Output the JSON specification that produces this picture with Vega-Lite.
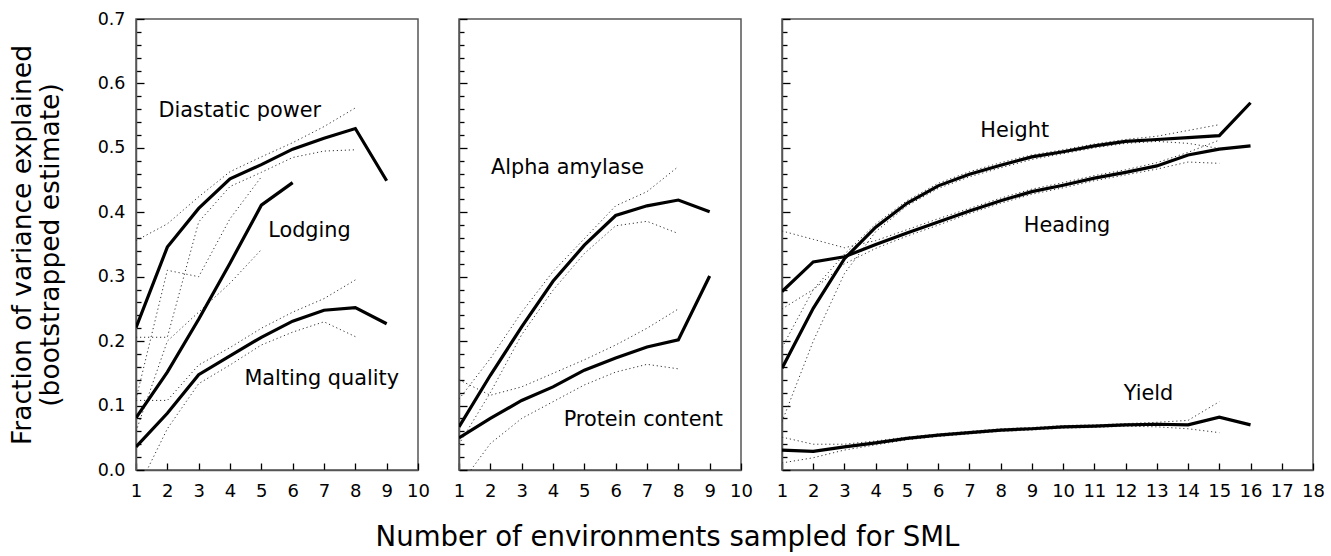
{
"$schema": "https://vega.github.io/schema/vega-lite/v6.json",
"autosize": {"type": "pad"},
"padding": {"left": 8, "top": 9, "right": 0, "bottom": 0},
"background": "white",
"datasets": {
"lines": [
{"p":1,"s":"Diastatic","k":"mean","x":1,"y":0.221},{"p":1,"s":"Diastatic","k":"mean","x":2,"y":0.346},{"p":1,"s":"Diastatic","k":"mean","x":3,"y":0.406},{"p":1,"s":"Diastatic","k":"mean","x":4,"y":0.452},{"p":1,"s":"Diastatic","k":"mean","x":5,"y":0.474},{"p":1,"s":"Diastatic","k":"mean","x":6,"y":0.498},{"p":1,"s":"Diastatic","k":"mean","x":7,"y":0.515},{"p":1,"s":"Diastatic","k":"mean","x":8,"y":0.530},{"p":1,"s":"Diastatic","k":"mean","x":9,"y":0.449},
{"p":1,"s":"Diastatic","k":"upper","x":1,"y":0.356},{"p":1,"s":"Diastatic","k":"upper","x":2,"y":0.382},{"p":1,"s":"Diastatic","k":"upper","x":3,"y":0.424},{"p":1,"s":"Diastatic","k":"upper","x":4,"y":0.463},{"p":1,"s":"Diastatic","k":"upper","x":5,"y":0.486},{"p":1,"s":"Diastatic","k":"upper","x":6,"y":0.508},{"p":1,"s":"Diastatic","k":"upper","x":7,"y":0.533},{"p":1,"s":"Diastatic","k":"upper","x":8,"y":0.562},
{"p":1,"s":"Diastatic","k":"lower","x":1,"y":0.206},{"p":1,"s":"Diastatic","k":"lower","x":2,"y":0.206},{"p":1,"s":"Diastatic","k":"lower","x":3,"y":0.385},{"p":1,"s":"Diastatic","k":"lower","x":4,"y":0.440},{"p":1,"s":"Diastatic","k":"lower","x":5,"y":0.462},{"p":1,"s":"Diastatic","k":"lower","x":6,"y":0.485},{"p":1,"s":"Diastatic","k":"lower","x":7,"y":0.495},{"p":1,"s":"Diastatic","k":"lower","x":8,"y":0.497},
{"p":1,"s":"Lodging","k":"mean","x":1,"y":0.081},{"p":1,"s":"Lodging","k":"mean","x":2,"y":0.152},{"p":1,"s":"Lodging","k":"mean","x":3,"y":0.234},{"p":1,"s":"Lodging","k":"mean","x":4,"y":0.321},{"p":1,"s":"Lodging","k":"mean","x":5,"y":0.411},{"p":1,"s":"Lodging","k":"mean","x":6,"y":0.446},
{"p":1,"s":"Lodging","k":"upper","x":1,"y":0.11},{"p":1,"s":"Lodging","k":"upper","x":2,"y":0.31},{"p":1,"s":"Lodging","k":"upper","x":3,"y":0.30},{"p":1,"s":"Lodging","k":"upper","x":4,"y":0.39},{"p":1,"s":"Lodging","k":"upper","x":5,"y":0.455},
{"p":1,"s":"Lodging","k":"lower","x":1,"y":0.06},{"p":1,"s":"Lodging","k":"lower","x":2,"y":0.20},{"p":1,"s":"Lodging","k":"lower","x":3,"y":0.245},{"p":1,"s":"Lodging","k":"lower","x":4,"y":0.29},{"p":1,"s":"Lodging","k":"lower","x":5,"y":0.342},
{"p":1,"s":"Malting","k":"mean","x":1,"y":0.036},{"p":1,"s":"Malting","k":"mean","x":2,"y":0.088},{"p":1,"s":"Malting","k":"mean","x":3,"y":0.148},{"p":1,"s":"Malting","k":"mean","x":4,"y":0.177},{"p":1,"s":"Malting","k":"mean","x":5,"y":0.206},{"p":1,"s":"Malting","k":"mean","x":6,"y":0.231},{"p":1,"s":"Malting","k":"mean","x":7,"y":0.248},{"p":1,"s":"Malting","k":"mean","x":8,"y":0.252},{"p":1,"s":"Malting","k":"mean","x":9,"y":0.227},
{"p":1,"s":"Malting","k":"upper","x":1,"y":0.108},{"p":1,"s":"Malting","k":"upper","x":2,"y":0.108},{"p":1,"s":"Malting","k":"upper","x":3,"y":0.163},{"p":1,"s":"Malting","k":"upper","x":4,"y":0.19},{"p":1,"s":"Malting","k":"upper","x":5,"y":0.22},{"p":1,"s":"Malting","k":"upper","x":6,"y":0.245},{"p":1,"s":"Malting","k":"upper","x":7,"y":0.266},{"p":1,"s":"Malting","k":"upper","x":8,"y":0.295},
{"p":1,"s":"Malting","k":"lower","x":1,"y":-0.035},{"p":1,"s":"Malting","k":"lower","x":2,"y":0.064},{"p":1,"s":"Malting","k":"lower","x":3,"y":0.134},{"p":1,"s":"Malting","k":"lower","x":4,"y":0.163},{"p":1,"s":"Malting","k":"lower","x":5,"y":0.194},{"p":1,"s":"Malting","k":"lower","x":6,"y":0.214},{"p":1,"s":"Malting","k":"lower","x":7,"y":0.23},{"p":1,"s":"Malting","k":"lower","x":8,"y":0.207},
{"p":2,"s":"Alpha","k":"mean","x":1,"y":0.067},{"p":2,"s":"Alpha","k":"mean","x":2,"y":0.147},{"p":2,"s":"Alpha","k":"mean","x":3,"y":0.222},{"p":2,"s":"Alpha","k":"mean","x":4,"y":0.293},{"p":2,"s":"Alpha","k":"mean","x":5,"y":0.349},{"p":2,"s":"Alpha","k":"mean","x":6,"y":0.395},{"p":2,"s":"Alpha","k":"mean","x":7,"y":0.410},{"p":2,"s":"Alpha","k":"mean","x":8,"y":0.419},{"p":2,"s":"Alpha","k":"mean","x":9,"y":0.401},
{"p":2,"s":"Alpha","k":"upper","x":1,"y":0.11},{"p":2,"s":"Alpha","k":"upper","x":2,"y":0.173},{"p":2,"s":"Alpha","k":"upper","x":3,"y":0.245},{"p":2,"s":"Alpha","k":"upper","x":4,"y":0.308},{"p":2,"s":"Alpha","k":"upper","x":5,"y":0.359},{"p":2,"s":"Alpha","k":"upper","x":6,"y":0.41},{"p":2,"s":"Alpha","k":"upper","x":7,"y":0.432},{"p":2,"s":"Alpha","k":"upper","x":8,"y":0.471},
{"p":2,"s":"Alpha","k":"lower","x":1,"y":0.04},{"p":2,"s":"Alpha","k":"lower","x":2,"y":0.12},{"p":2,"s":"Alpha","k":"lower","x":3,"y":0.21},{"p":2,"s":"Alpha","k":"lower","x":4,"y":0.279},{"p":2,"s":"Alpha","k":"lower","x":5,"y":0.336},{"p":2,"s":"Alpha","k":"lower","x":6,"y":0.379},{"p":2,"s":"Alpha","k":"lower","x":7,"y":0.386},{"p":2,"s":"Alpha","k":"lower","x":8,"y":0.367},
{"p":2,"s":"Protein","k":"mean","x":1,"y":0.05},{"p":2,"s":"Protein","k":"mean","x":2,"y":0.08},{"p":2,"s":"Protein","k":"mean","x":3,"y":0.108},{"p":2,"s":"Protein","k":"mean","x":4,"y":0.129},{"p":2,"s":"Protein","k":"mean","x":5,"y":0.155},{"p":2,"s":"Protein","k":"mean","x":6,"y":0.174},{"p":2,"s":"Protein","k":"mean","x":7,"y":0.191},{"p":2,"s":"Protein","k":"mean","x":8,"y":0.202},{"p":2,"s":"Protein","k":"mean","x":9,"y":0.301},
{"p":2,"s":"Protein","k":"upper","x":1,"y":0.14},{"p":2,"s":"Protein","k":"upper","x":2,"y":0.116},{"p":2,"s":"Protein","k":"upper","x":3,"y":0.129},{"p":2,"s":"Protein","k":"upper","x":4,"y":0.15},{"p":2,"s":"Protein","k":"upper","x":5,"y":0.171},{"p":2,"s":"Protein","k":"upper","x":6,"y":0.194},{"p":2,"s":"Protein","k":"upper","x":7,"y":0.22},{"p":2,"s":"Protein","k":"upper","x":8,"y":0.25},
{"p":2,"s":"Protein","k":"lower","x":1,"y":-0.025},{"p":2,"s":"Protein","k":"lower","x":2,"y":0.041},{"p":2,"s":"Protein","k":"lower","x":3,"y":0.08},{"p":2,"s":"Protein","k":"lower","x":4,"y":0.106},{"p":2,"s":"Protein","k":"lower","x":5,"y":0.132},{"p":2,"s":"Protein","k":"lower","x":6,"y":0.152},{"p":2,"s":"Protein","k":"lower","x":7,"y":0.164},{"p":2,"s":"Protein","k":"lower","x":8,"y":0.157},
{"p":3,"s":"Height","k":"mean","x":1,"y":0.158},{"p":3,"s":"Height","k":"mean","x":2,"y":0.251},{"p":3,"s":"Height","k":"mean","x":3,"y":0.328},{"p":3,"s":"Height","k":"mean","x":4,"y":0.377},{"p":3,"s":"Height","k":"mean","x":5,"y":0.414},{"p":3,"s":"Height","k":"mean","x":6,"y":0.441},{"p":3,"s":"Height","k":"mean","x":7,"y":0.459},{"p":3,"s":"Height","k":"mean","x":8,"y":0.473},{"p":3,"s":"Height","k":"mean","x":9,"y":0.486},{"p":3,"s":"Height","k":"mean","x":10,"y":0.494},{"p":3,"s":"Height","k":"mean","x":11,"y":0.503},{"p":3,"s":"Height","k":"mean","x":12,"y":0.510},{"p":3,"s":"Height","k":"mean","x":13,"y":0.513},{"p":3,"s":"Height","k":"mean","x":14,"y":0.516},{"p":3,"s":"Height","k":"mean","x":15,"y":0.519},{"p":3,"s":"Height","k":"mean","x":16,"y":0.570},
{"p":3,"s":"Height","k":"upper","x":1,"y":0.19},{"p":3,"s":"Height","k":"upper","x":2,"y":0.28},{"p":3,"s":"Height","k":"upper","x":3,"y":0.335},{"p":3,"s":"Height","k":"upper","x":4,"y":0.382},{"p":3,"s":"Height","k":"upper","x":5,"y":0.418},{"p":3,"s":"Height","k":"upper","x":6,"y":0.445},{"p":3,"s":"Height","k":"upper","x":7,"y":0.463},{"p":3,"s":"Height","k":"upper","x":8,"y":0.477},{"p":3,"s":"Height","k":"upper","x":9,"y":0.489},{"p":3,"s":"Height","k":"upper","x":10,"y":0.497},{"p":3,"s":"Height","k":"upper","x":11,"y":0.506},{"p":3,"s":"Height","k":"upper","x":12,"y":0.513},{"p":3,"s":"Height","k":"upper","x":13,"y":0.518},{"p":3,"s":"Height","k":"upper","x":14,"y":0.527},{"p":3,"s":"Height","k":"upper","x":15,"y":0.536},
{"p":3,"s":"Height","k":"lower","x":1,"y":0.075},{"p":3,"s":"Height","k":"lower","x":2,"y":0.20},{"p":3,"s":"Height","k":"lower","x":3,"y":0.305},{"p":3,"s":"Height","k":"lower","x":4,"y":0.37},{"p":3,"s":"Height","k":"lower","x":5,"y":0.41},{"p":3,"s":"Height","k":"lower","x":6,"y":0.437},{"p":3,"s":"Height","k":"lower","x":7,"y":0.455},{"p":3,"s":"Height","k":"lower","x":8,"y":0.469},{"p":3,"s":"Height","k":"lower","x":9,"y":0.482},{"p":3,"s":"Height","k":"lower","x":10,"y":0.491},{"p":3,"s":"Height","k":"lower","x":11,"y":0.500},{"p":3,"s":"Height","k":"lower","x":12,"y":0.507},{"p":3,"s":"Height","k":"lower","x":13,"y":0.510},{"p":3,"s":"Height","k":"lower","x":14,"y":0.507},{"p":3,"s":"Height","k":"lower","x":15,"y":0.499},
{"p":3,"s":"Heading","k":"mean","x":1,"y":0.277},{"p":3,"s":"Heading","k":"mean","x":2,"y":0.323},{"p":3,"s":"Heading","k":"mean","x":3,"y":0.331},{"p":3,"s":"Heading","k":"mean","x":4,"y":0.35},{"p":3,"s":"Heading","k":"mean","x":5,"y":0.368},{"p":3,"s":"Heading","k":"mean","x":6,"y":0.385},{"p":3,"s":"Heading","k":"mean","x":7,"y":0.402},{"p":3,"s":"Heading","k":"mean","x":8,"y":0.418},{"p":3,"s":"Heading","k":"mean","x":9,"y":0.432},{"p":3,"s":"Heading","k":"mean","x":10,"y":0.442},{"p":3,"s":"Heading","k":"mean","x":11,"y":0.453},{"p":3,"s":"Heading","k":"mean","x":12,"y":0.462},{"p":3,"s":"Heading","k":"mean","x":13,"y":0.472},{"p":3,"s":"Heading","k":"mean","x":14,"y":0.489},{"p":3,"s":"Heading","k":"mean","x":15,"y":0.498},{"p":3,"s":"Heading","k":"mean","x":16,"y":0.503},
{"p":3,"s":"Heading","k":"upper","x":1,"y":0.371},{"p":3,"s":"Heading","k":"upper","x":2,"y":0.358},{"p":3,"s":"Heading","k":"upper","x":3,"y":0.345},{"p":3,"s":"Heading","k":"upper","x":4,"y":0.356},{"p":3,"s":"Heading","k":"upper","x":5,"y":0.373},{"p":3,"s":"Heading","k":"upper","x":6,"y":0.39},{"p":3,"s":"Heading","k":"upper","x":7,"y":0.406},{"p":3,"s":"Heading","k":"upper","x":8,"y":0.422},{"p":3,"s":"Heading","k":"upper","x":9,"y":0.436},{"p":3,"s":"Heading","k":"upper","x":10,"y":0.446},{"p":3,"s":"Heading","k":"upper","x":11,"y":0.457},{"p":3,"s":"Heading","k":"upper","x":12,"y":0.466},{"p":3,"s":"Heading","k":"upper","x":13,"y":0.477},{"p":3,"s":"Heading","k":"upper","x":14,"y":0.493},{"p":3,"s":"Heading","k":"upper","x":15,"y":0.512},
{"p":3,"s":"Heading","k":"lower","x":1,"y":0.25},{"p":3,"s":"Heading","k":"lower","x":2,"y":0.28},{"p":3,"s":"Heading","k":"lower","x":3,"y":0.32},{"p":3,"s":"Heading","k":"lower","x":4,"y":0.344},{"p":3,"s":"Heading","k":"lower","x":5,"y":0.363},{"p":3,"s":"Heading","k":"lower","x":6,"y":0.38},{"p":3,"s":"Heading","k":"lower","x":7,"y":0.398},{"p":3,"s":"Heading","k":"lower","x":8,"y":0.414},{"p":3,"s":"Heading","k":"lower","x":9,"y":0.428},{"p":3,"s":"Heading","k":"lower","x":10,"y":0.438},{"p":3,"s":"Heading","k":"lower","x":11,"y":0.449},{"p":3,"s":"Heading","k":"lower","x":12,"y":0.458},{"p":3,"s":"Heading","k":"lower","x":13,"y":0.467},{"p":3,"s":"Heading","k":"lower","x":14,"y":0.478},{"p":3,"s":"Heading","k":"lower","x":15,"y":0.476},
{"p":3,"s":"Yield","k":"mean","x":1,"y":0.031},{"p":3,"s":"Yield","k":"mean","x":2,"y":0.029},{"p":3,"s":"Yield","k":"mean","x":3,"y":0.036},{"p":3,"s":"Yield","k":"mean","x":4,"y":0.042},{"p":3,"s":"Yield","k":"mean","x":5,"y":0.049},{"p":3,"s":"Yield","k":"mean","x":6,"y":0.054},{"p":3,"s":"Yield","k":"mean","x":7,"y":0.058},{"p":3,"s":"Yield","k":"mean","x":8,"y":0.062},{"p":3,"s":"Yield","k":"mean","x":9,"y":0.064},{"p":3,"s":"Yield","k":"mean","x":10,"y":0.067},{"p":3,"s":"Yield","k":"mean","x":11,"y":0.068},{"p":3,"s":"Yield","k":"mean","x":12,"y":0.070},{"p":3,"s":"Yield","k":"mean","x":13,"y":0.071},{"p":3,"s":"Yield","k":"mean","x":14,"y":0.070},{"p":3,"s":"Yield","k":"mean","x":15,"y":0.082},{"p":3,"s":"Yield","k":"mean","x":16,"y":0.070},
{"p":3,"s":"Yield","k":"upper","x":1,"y":0.051},{"p":3,"s":"Yield","k":"upper","x":2,"y":0.04},{"p":3,"s":"Yield","k":"upper","x":3,"y":0.04},{"p":3,"s":"Yield","k":"upper","x":4,"y":0.045},{"p":3,"s":"Yield","k":"upper","x":5,"y":0.051},{"p":3,"s":"Yield","k":"upper","x":6,"y":0.056},{"p":3,"s":"Yield","k":"upper","x":7,"y":0.06},{"p":3,"s":"Yield","k":"upper","x":8,"y":0.064},{"p":3,"s":"Yield","k":"upper","x":9,"y":0.066},{"p":3,"s":"Yield","k":"upper","x":10,"y":0.069},{"p":3,"s":"Yield","k":"upper","x":11,"y":0.07},{"p":3,"s":"Yield","k":"upper","x":12,"y":0.072},{"p":3,"s":"Yield","k":"upper","x":13,"y":0.074},{"p":3,"s":"Yield","k":"upper","x":14,"y":0.077},{"p":3,"s":"Yield","k":"upper","x":15,"y":0.106},
{"p":3,"s":"Yield","k":"lower","x":1,"y":0.011},{"p":3,"s":"Yield","k":"lower","x":2,"y":0.019},{"p":3,"s":"Yield","k":"lower","x":3,"y":0.031},{"p":3,"s":"Yield","k":"lower","x":4,"y":0.039},{"p":3,"s":"Yield","k":"lower","x":5,"y":0.047},{"p":3,"s":"Yield","k":"lower","x":6,"y":0.052},{"p":3,"s":"Yield","k":"lower","x":7,"y":0.056},{"p":3,"s":"Yield","k":"lower","x":8,"y":0.06},{"p":3,"s":"Yield","k":"lower","x":9,"y":0.062},{"p":3,"s":"Yield","k":"lower","x":10,"y":0.065},{"p":3,"s":"Yield","k":"lower","x":11,"y":0.066},{"p":3,"s":"Yield","k":"lower","x":12,"y":0.068},{"p":3,"s":"Yield","k":"lower","x":13,"y":0.067},{"p":3,"s":"Yield","k":"lower","x":14,"y":0.064},{"p":3,"s":"Yield","k":"lower","x":15,"y":0.058}
],
"labels": [
{"p":1,"t":"Diastatic power","x":1.72,"y":0.548},
{"p":1,"t":"Lodging","x":5.22,"y":0.362},
{"p":1,"t":"Malting quality","x":4.46,"y":0.1316},
{"p":2,"t":"Alpha amylase","x":2.02,"y":0.459},
{"p":2,"t":"Protein content","x":4.34,"y":0.068},
{"p":3,"t":"Height","x":7.35,"y":0.517},
{"p":3,"t":"Heading","x":8.74,"y":0.370},
{"p":3,"t":"Yield","x":11.94,"y":0.109}
]
},
"hconcat": [
{
"width": 282, "height": 451,
"encoding": {
"x": {"field": "x", "type": "quantitative", "scale": {"domain": [1, 10], "nice": false, "zero": false},
"axis": {"values": [1,2,3,4,5,6,7,8,9,10], "format": "d", "tickSize": -7, "labelPadding": 19, "labelFontSize": 18, "labelFlush": false, "title": null}},
"y": {"field": "y", "type": "quantitative", "scale": {"domain": [0, 0.7], "nice": false},
"axis": {"values": [0,0.02,0.04,0.06,0.08,0.1,0.12,0.14,0.16,0.18,0.2,0.22,0.24,0.26,0.28,0.3,0.32,0.34,0.36,0.38,0.4,0.42,0.44,0.46,0.48,0.5,0.52,0.54,0.56,0.58,0.6,0.62,0.64,0.66,0.68,0.7],
"tickSize": {"condition": {"test": "abs(datum.value*10 - round(datum.value*10)) < 0.001", "value": -8}, "value": -5},
"labelExpr": "abs(datum.value*10 - round(datum.value*10)) < 0.001 ? format(datum.value, '.1f') : ''",
"labelPadding": 19, "labelFontSize": 17.5,
"title": ["Fraction of variance explained", "(bootstrapped estimate)"],
"titleFontSize": 26.5, "titleLineHeight": 28, "titlePadding": 33, "titleFontWeight": "normal"}}
},
"layer": [
{"data": {"name": "lines"}, "transform": [{"filter": "datum.p == 1 && datum.k != 'mean'"}],
"mark": {"type": "line", "clip": true, "strokeDash": [1.2, 2.8], "strokeWidth": 1, "color": "#333"},
"encoding": {"detail": [{"field": "s"}, {"field": "k"}]}},
{"data": {"name": "lines"}, "transform": [{"filter": "datum.p == 1 && datum.k == 'mean'"}],
"mark": {"type": "line", "clip": true, "strokeWidth": 3.2, "color": "#000"},
"encoding": {"detail": {"field": "s"}}},
{"data": {"name": "labels"}, "transform": [{"filter": "datum.p == 1"}],
"mark": {"type": "text", "align": "left", "baseline": "alphabetic", "fontSize": 20.8, "color": "#000"},
"encoding": {"text": {"field": "t"}}}
]
},
{
"width": 282, "height": 451,
"encoding": {
"x": {"field": "x", "type": "quantitative", "scale": {"domain": [1, 10], "nice": false, "zero": false},
"axis": {"values": [1,2,3,4,5,6,7,8,9,10], "format": "d", "tickSize": -7, "labelPadding": 19, "labelFontSize": 18, "labelFlush": false,
"title": "Number of environments sampled for SML", "titleFontSize": 27.6, "titleFontWeight": "normal", "titleX": 208, "titleY": 67, "titleBaseline": "middle", "titleAlign": "center"}},
"y": {"field": "y", "type": "quantitative", "scale": {"domain": [0, 0.7], "nice": false},
"axis": {"values": [0,0.02,0.04,0.06,0.08,0.1,0.12,0.14,0.16,0.18,0.2,0.22,0.24,0.26,0.28,0.3,0.32,0.34,0.36,0.38,0.4,0.42,0.44,0.46,0.48,0.5,0.52,0.54,0.56,0.58,0.6,0.62,0.64,0.66,0.68,0.7],
"tickSize": {"condition": {"test": "abs(datum.value*10 - round(datum.value*10)) < 0.001", "value": -8}, "value": -5},
"labels": false, "title": null}}
},
"layer": [
{"data": {"name": "lines"}, "transform": [{"filter": "datum.p == 2 && datum.k != 'mean'"}],
"mark": {"type": "line", "clip": true, "strokeDash": [1.2, 2.8], "strokeWidth": 1, "color": "#333"},
"encoding": {"detail": [{"field": "s"}, {"field": "k"}]}},
{"data": {"name": "lines"}, "transform": [{"filter": "datum.p == 2 && datum.k == 'mean'"}],
"mark": {"type": "line", "clip": true, "strokeWidth": 3.2, "color": "#000"},
"encoding": {"detail": {"field": "s"}}},
{"data": {"name": "labels"}, "transform": [{"filter": "datum.p == 2"}],
"mark": {"type": "text", "align": "left", "baseline": "alphabetic", "fontSize": 20.8, "color": "#000"},
"encoding": {"text": {"field": "t"}}}
]
},
{
"width": 531, "height": 451,
"encoding": {
"x": {"field": "x", "type": "quantitative", "scale": {"domain": [1, 18], "nice": false, "zero": false},
"axis": {"values": [1,2,3,4,5,6,7,8,9,10,11,12,13,14,15,16,17,18], "format": "d", "tickSize": -7, "labelPadding": 19, "labelFontSize": 18, "labelFlush": false, "title": null}},
"y": {"field": "y", "type": "quantitative", "scale": {"domain": [0, 0.7], "nice": false},
"axis": {"values": [0,0.02,0.04,0.06,0.08,0.1,0.12,0.14,0.16,0.18,0.2,0.22,0.24,0.26,0.28,0.3,0.32,0.34,0.36,0.38,0.4,0.42,0.44,0.46,0.48,0.5,0.52,0.54,0.56,0.58,0.6,0.62,0.64,0.66,0.68,0.7],
"tickSize": {"condition": {"test": "abs(datum.value*10 - round(datum.value*10)) < 0.001", "value": -8}, "value": -5},
"labels": false, "title": null}}
},
"layer": [
{"data": {"name": "lines"}, "transform": [{"filter": "datum.p == 3 && datum.k != 'mean'"}],
"mark": {"type": "line", "clip": true, "strokeDash": [1.2, 2.8], "strokeWidth": 1, "color": "#333"},
"encoding": {"detail": [{"field": "s"}, {"field": "k"}]}},
{"data": {"name": "lines"}, "transform": [{"filter": "datum.p == 3 && datum.k == 'mean'"}],
"mark": {"type": "line", "clip": true, "strokeWidth": 3.2, "color": "#000"},
"encoding": {"detail": {"field": "s"}}},
{"data": {"name": "labels"}, "transform": [{"filter": "datum.p == 3"}],
"mark": {"type": "text", "align": "left", "baseline": "alphabetic", "fontSize": 20.8, "color": "#000"},
"encoding": {"text": {"field": "t"}}}
]
}
],
"spacing": 41,
"bounds": "flush",
"config": {
"font": "DejaVu Sans",
"view": {"stroke": "#555", "strokeWidth": 1.5},
"axis": {"grid": false, "labelColor": "#000", "titleColor": "#000", "domainColor": "#555", "domainWidth": 1.5, "tickColor": "#000", "tickWidth": 1.3, "labelFont": "DejaVu Sans", "titleFont": "DejaVu Sans"},
"text": {"font": "DejaVu Sans"}
}
}
